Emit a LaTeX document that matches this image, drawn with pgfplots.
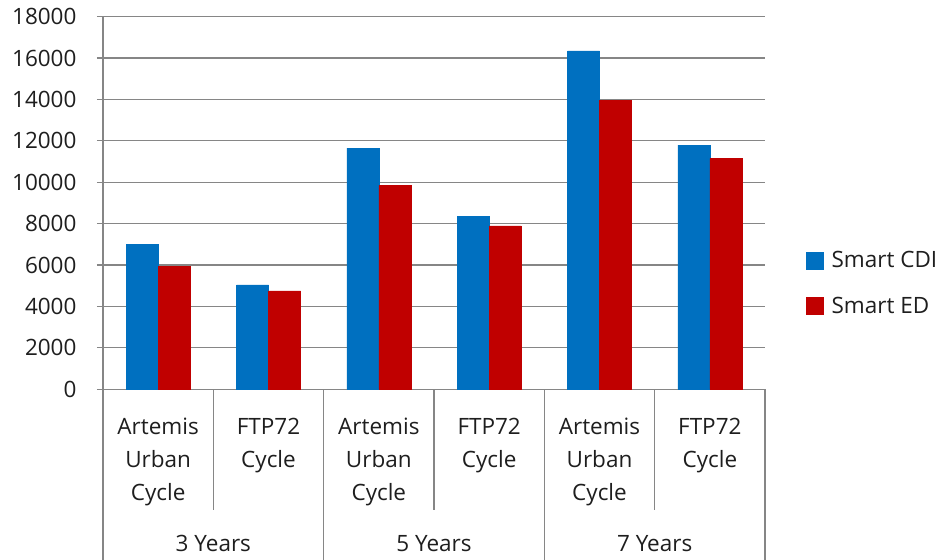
\documentclass[border=0pt]{standalone}
\usepackage{pgfplots}
\pgfplotsset{compat=1.18}
\usepackage{fontspec}
\setmainfont{Open Sans}
\definecolor{cdi}{RGB}{0,112,192}
\definecolor{ed}{RGB}{192,0,0}
\definecolor{gridc}{RGB}{134,134,134}
\definecolor{txt}{RGB}{30,30,30}
\newcommand{\lblfont}{\fontsize{22.5}{33}\selectfont}

\begin{document}
\begin{tikzpicture}[x=1pt,y=1pt]
\useasboundingbox (0,0) rectangle (941,559);
\begin{axis}[
    at={(103pt,169.7pt)}, anchor=south west,
    scale only axis, width=662pt, height=372.6pt,
    ybar=0pt, bar width=32pt,
    xmin=-0.5, xmax=5.5,
    ymin=0, ymax=18000,
    xtick=data,
    xticklabels={Artemis\\Urban\\Cycle, FTP72\\Cycle, Artemis\\Urban\\Cycle, FTP72\\Cycle, Artemis\\Urban\\Cycle, FTP72\\Cycle},
    x tick label style={anchor=north, align=center, font=\lblfont, text=txt, yshift=-19pt},
    major x tick style={draw=none},
    ytick={0,2000,...,18000},
    scaled y ticks=false,
    y tick label style={font=\lblfont, text=txt, xshift=-17pt,
        /pgf/number format/.cd, 1000 sep={}, assume math mode=true},
    ymajorgrids, grid style={gridc, line width=1.2pt},
    axis x line*=bottom, axis y line*=left,
    axis line style={gridc, line width=1.2pt, -},
    major y tick style={gridc, line width=1.2pt},
    tick align=outside, major tick length=6pt,
    clip=false,
    every axis plot post/.append style={
        legend image code/.code={\fill[##1] (0pt,-8.5pt) rectangle (17pt,8.5pt);}},
    legend style={at={(axis description cs:1.0619,0.285)}, anchor=west, draw=none, fill=none,
        font=\lblfont, text=txt, row sep=24pt, inner sep=0pt,
        nodes={inner sep=2pt},
        /tikz/every odd column/.append style={column sep=6pt}},
    legend cell align=left,
]
\addplot[fill=cdi, draw=cdi] coordinates {(0,7000) (1,5050) (2,11650) (3,8350) (4,16350) (5,11800)};
\addplot[fill=ed, draw=ed] coordinates {(0,5950) (1,4750) (2,9850) (3,7900) (4,13950) (5,11150)};
\legend{Smart CDI, Smart ED}

% category separators below the axis
\pgfplotsinvokeforeach{-0.5,1.5,3.5,5.5}{
  \draw[gridc, line width=1.2pt] (axis cs:#1,0) -- ++(0pt,-175pt);
}
\pgfplotsinvokeforeach{0.5,2.5,4.5}{
  \draw[gridc, line width=1.2pt] (axis cs:#1,0) -- ++(0pt,-121pt);
}
\node[font=\lblfont, text=txt] at (axis cs:0.5,0) [yshift=-154pt] {3 Years};
\node[font=\lblfont, text=txt] at (axis cs:2.5,0) [yshift=-154pt] {5 Years};
\node[font=\lblfont, text=txt] at (axis cs:4.5,0) [yshift=-154pt] {7 Years};
\end{axis}
\end{tikzpicture}
\end{document}
